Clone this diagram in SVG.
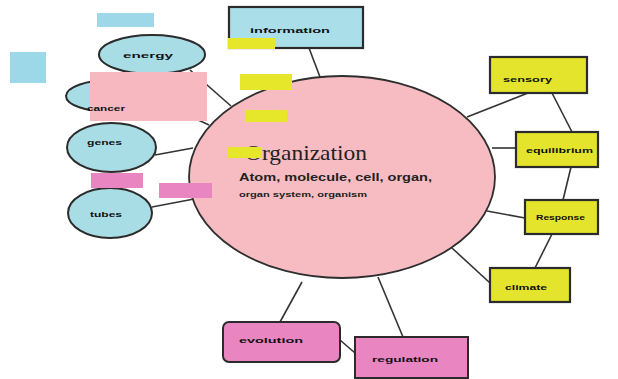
<svg xmlns="http://www.w3.org/2000/svg" width="618" height="379" viewBox="0 0 618 379">
<style>
.bg{fill:#ffffff}
.con{stroke:#333;stroke-width:1.6;fill:none}
.oval{fill:#a9dde6;stroke:#2b2b2b;stroke-width:2}
.ybox{fill:#e4e42c;stroke:#2b2b2b;stroke-width:2.2}
.bbox{fill:#aadfe9;stroke:#2b2b2b;stroke-width:2.2}
.mbox{fill:#e985c1;stroke:#2b2b2b;stroke-width:2}
.lbl{font-family:"Liberation Sans",Arial,sans-serif;font-size:8px;font-weight:bold;fill:#111}
.hy{fill:#e6e62a}
.hb{fill:#9dd8e8}
.hp{fill:#f7b9bf}
.hm{fill:#e985c1}
</style>
<rect class="bg" x="0" y="0" width="618" height="379"/>
<g id="connectors">
<line class="con" x1="190" y1="70" x2="231" y2="106"/>
<line class="con" x1="155" y1="100" x2="209" y2="125"/>
<line class="con" x1="155" y1="155" x2="193" y2="148"/>
<line class="con" x1="152" y1="207" x2="194" y2="199"/>
<line class="con" x1="309" y1="48" x2="320" y2="77"/>
<line class="con" x1="528" y1="93" x2="467" y2="117"/>
<line class="con" x1="552" y1="93" x2="572" y2="132"/>
<line class="con" x1="492" y1="148" x2="516" y2="148"/>
<line class="con" x1="571" y1="167" x2="563" y2="200"/>
<line class="con" x1="487" y1="211" x2="525" y2="218"/>
<line class="con" x1="552" y1="234" x2="535" y2="268"/>
<line class="con" x1="452" y1="248" x2="490" y2="283"/>
<line class="con" x1="280" y1="322" x2="302" y2="282"/>
<line class="con" x1="403" y1="337" x2="378" y2="277"/>
<line class="con" x1="340" y1="340" x2="355" y2="353"/>
</g>
<g id="organization">
<ellipse cx="342" cy="177" rx="153" ry="101" fill="#f7bcc1" stroke="#2e2e2e" stroke-width="1.8"/>
<text x="245" y="160" font-family="'Liberation Serif','Times New Roman',serif" font-size="21" fill="#222" textLength="122" lengthAdjust="spacingAndGlyphs">Organization</text>
<text x="239" y="181" font-family="'Liberation Sans',Arial,sans-serif" font-size="10.5" font-weight="bold" fill="#222" textLength="193" lengthAdjust="spacingAndGlyphs">Atom, molecule, cell, organ,</text>
<text x="239" y="197" font-family="'Liberation Sans',Arial,sans-serif" font-size="7.5" font-weight="bold" fill="#222" textLength="128" lengthAdjust="spacingAndGlyphs">organ system, organism</text>
</g>
<g id="energy">
<ellipse class="oval" cx="152" cy="54.5" rx="53" ry="19.5"/>
<text class="lbl" x="123" y="58" textLength="50" lengthAdjust="spacingAndGlyphs">energy</text>
</g>
<g id="cancer">
<ellipse class="oval" cx="111" cy="96" rx="45" ry="16"/>
</g>
<g id="genes">
<ellipse class="oval" cx="111.5" cy="147.5" rx="44.5" ry="24.5"/>
<text class="lbl" x="87" y="145" textLength="35" lengthAdjust="spacingAndGlyphs">genes</text>
</g>
<g id="tubes">
<ellipse class="oval" cx="110" cy="213" rx="42" ry="25"/>
<text class="lbl" x="90" y="217" textLength="32" lengthAdjust="spacingAndGlyphs">tubes</text>
</g>
<g id="information">
<rect class="bbox" x="229" y="7" width="134" height="41"/>
<text class="lbl" x="250" y="33" textLength="80" lengthAdjust="spacingAndGlyphs">information</text>
</g>
<g id="sensory">
<rect class="ybox" x="490" y="57" width="97" height="36"/>
<text class="lbl" x="503" y="82" textLength="49" lengthAdjust="spacingAndGlyphs">sensory</text>
</g>
<g id="equilibrium">
<rect class="ybox" x="516" y="132" width="82" height="35"/>
<text class="lbl" x="526" y="153" textLength="67" lengthAdjust="spacingAndGlyphs">equilibrium</text>
</g>
<g id="response">
<rect class="ybox" x="525" y="200" width="73" height="34"/>
<text class="lbl" x="536" y="220" textLength="49" lengthAdjust="spacingAndGlyphs">Response</text>
</g>
<g id="climate">
<rect class="ybox" x="490" y="268" width="80" height="34"/>
<text class="lbl" x="505" y="290" textLength="42" lengthAdjust="spacingAndGlyphs">climate</text>
</g>
<g id="evolution">
<rect class="mbox" x="223" y="322" width="117" height="40" rx="6"/>
<text class="lbl" x="239" y="343" textLength="64" lengthAdjust="spacingAndGlyphs">evolution</text>
</g>
<g id="regulation">
<rect class="mbox" x="355" y="337" width="113" height="41"/>
<text class="lbl" x="372" y="362" textLength="66" lengthAdjust="spacingAndGlyphs">regulation</text>
</g>
<g id="highlights">
<rect class="hb" x="97" y="13" width="57" height="14"/>
<rect class="hb" x="10" y="52" width="36" height="31"/>
<rect class="hp" x="90" y="72" width="117" height="49"/>
<rect class="hy" x="228" y="38" width="47" height="11"/>
<rect class="hy" x="240" y="74" width="52" height="16"/>
<rect class="hy" x="245" y="110" width="42" height="12"/>
<rect class="hy" x="228" y="147" width="34" height="11"/>
<rect class="hm" x="91" y="173" width="52" height="15"/>
<rect class="hm" x="159" y="183" width="53" height="15"/>
</g>
<g id="cancer-label">
<text class="lbl" x="87" y="111" textLength="38" lengthAdjust="spacingAndGlyphs">cancer</text>
</g>
</svg>
